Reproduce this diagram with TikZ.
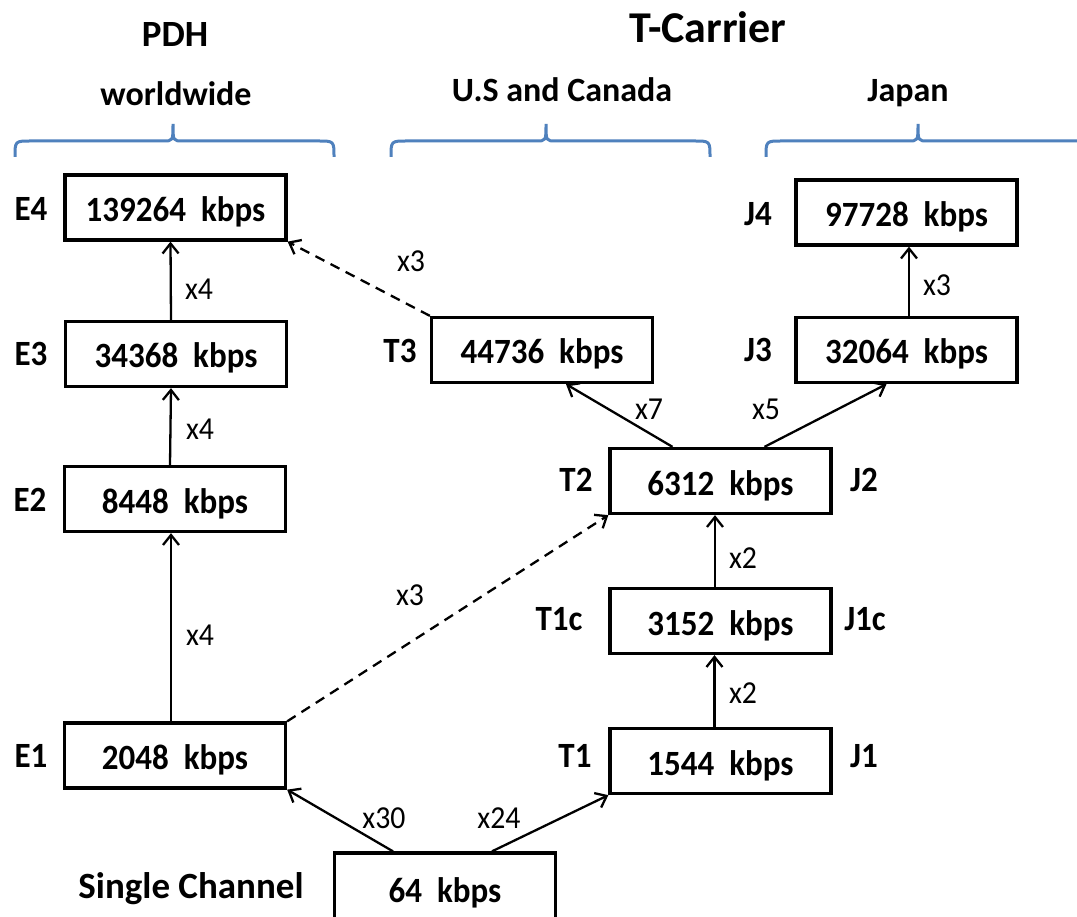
\documentclass[tikz,border=0pt]{standalone}
\usepackage{fontspec}
\setmainfont{Carlito}
\newfontfamily\tallfont[FakeStretch=0.93]{Carlito}
\usetikzlibrary{arrows.meta}
\definecolor{bracecol}{RGB}{79,129,189}
\tikzset{
  box/.style={draw, line width=3.3pt, minimum width=221pt, minimum height=65pt,
    inner sep=0pt, font=\tallfont\fontsize{35.5}{42}\selectfont\bfseries, text height=28pt, text depth=0pt},
  lab/.style={font=\tallfont\fontsize{35.5}{42}\selectfont\bfseries, anchor=base, inner sep=0pt},
  sublab/.style={font=\fontsize{34}{40}\selectfont\bfseries, anchor=base, inner sep=0pt},
  mul/.style={font=\tallfont\fontsize{32}{38}\selectfont, anchor=base, inner sep=0pt},
  conn/.style={line width=2.3pt, -{Straight Barb[length=10pt,width=16pt]}},
  dconn/.style={conn, dash pattern=on 10pt off 7pt},
  bracepath/.style={draw=bracecol, line width=3pt},
}
\newcommand{\twosp}{\ \ }
\begin{document}
\begin{tikzpicture}[x=1pt,y=-1pt]
\useasboundingbox (0,0) rectangle (1077,917);
\clip (0,0) rectangle (1077,917);
\fill[white] (0,0) rectangle (1077,917);

% titles
\node[anchor=base, inner sep=0pt, font=\fontsize{37}{44}\selectfont\bfseries] (pdh) at (175,47) {PDH};
\node[anchor=base, inner sep=0pt, font=\fontsize{44}{52}\selectfont\bfseries] (tcar) at (708,43) {T-Carrier};
\node[sublab] (ww) at (176,106) {worldwide};
\node[sublab] (usc) at (562,102) {U.S and Canada};
\node[sublab] (jap) at (908,102) {Japan};

% braces
\draw[bracepath] (15,157) .. controls (15,141) and (15,141) .. (31,141) -- (163,141)
  .. controls (173,141) and (173,141) .. (173,124) .. controls (173,141) and (173,141) .. (183,141)
  -- (318,141) .. controls (334,141) and (334,141) .. (334,157);
\draw[bracepath] (391,157) .. controls (391,141) and (391,141) .. (407,141) -- (536,141)
  .. controls (546,141) and (546,141) .. (546,124) .. controls (546,141) and (546,141) .. (556,141)
  -- (694,141) .. controls (710,141) and (710,141) .. (710,157);
\draw[bracepath] (766,157) .. controls (766,141) and (766,141) .. (782,141) -- (908,141)
  .. controls (918,141) and (918,141) .. (918,124) .. controls (918,141) and (918,141) .. (928,141)
  -- (1090,141);

% boxes
\node[box] (E4) at (175.5,207.5) {139264\twosp kbps};
\node[box] (E3) at (176,354) {34368\twosp kbps};
\node[box] (E2) at (175,499) {8448\twosp kbps};
\node[box] (E1) at (175,755.5) {2048\twosp kbps};
\node[box] (T3) at (542,350) {44736\twosp kbps};
\node[box] (J3) at (906.5,350) {32064\twosp kbps};
\node[box] (J4) at (906.5,212.5) {97728\twosp kbps};
\node[box] (T2) at (720.5,481) {6312\twosp kbps};
\node[box] (T1c) at (720.5,621) {3152\twosp kbps};
\node[box] (T1) at (720.5,761) {1544\twosp kbps};
\node[box, minimum height=70pt] (CH) at (445,888) {64\twosp kbps};

% side labels
\node[lab] (lE4) at (31,221) {E4};
\node[lab] (lE3) at (31,366) {E3};
\node[lab] (lE2) at (30,511) {E2};
\node[lab] (lE1) at (31,767) {E1};
\node[lab] (lT3) at (400,363) {T3};
\node[lab] (lJ3) at (758,362) {J3};
\node[lab] (lJ4) at (758,226) {J4};
\node[lab] (lT2) at (576,491) {T2};
\node[lab] (lJ2) at (864,491) {J2};
\node[lab] (lT1c) at (559,630) {T1c};
\node[lab] (lJ1c) at (865,630) {J1c};
\node[lab] (lT1) at (575,767) {T1};
\node[lab] (lJ1) at (864,767) {J1};
\node[anchor=base, inner sep=0pt, font=\fontsize{37}{44}\selectfont\bfseries] (lCH) at (191,898) {Single Channel};

% connectors
\draw[conn] ([xshift=-5pt]E3.north) -- ([xshift=-5pt]E4.south);
\draw[conn] ([xshift=-5pt]E2.north) -- ([xshift=-5pt]E3.south);
\draw[conn] ([xshift=-4pt]E1.north) -- ([xshift=-4pt]E2.south);
\draw[dconn] (T3.north west) -- (E4.south east);
\draw[dconn] (E1.north east) -- (T2.south west);
\draw[conn] ([xshift=-48pt]T2.north) -- ([xshift=24pt]T3.south);
\draw[conn] ([xshift=44pt]T2.north) -- ([xshift=-20pt]J3.south);
\draw[conn] ([xshift=2.5pt]J3.north) -- ([xshift=2.5pt]J4.south);
\draw[conn] ([xshift=-5.5pt]T1c.north) -- ([xshift=-5.5pt]T2.south);
\draw[conn] ([xshift=-6pt]T1.north) -- ([xshift=-6pt]T1c.south);
\draw[conn] ([xshift=-52pt]CH.north) -- (E1.south east);
\draw[conn] ([xshift=47pt]CH.north) -- (T1.south west);

% multipliers
\node[mul] (m1) at (199,300) {x4};
\node[mul] (m2) at (200,439) {x4};
\node[mul] (m3) at (200,645) {x4};
\node[mul] (m4) at (411,272) {x3};
\node[mul] (m5) at (410,605) {x3};
\node[mul] (m6) at (649,420) {x7};
\node[mul] (m7) at (766,420) {x5};
\node[mul] (m8) at (937,296) {x3};
\node[mul] (m9) at (743,568) {x2};
\node[mul] (m10) at (743,703) {x2};
\node[mul] (m11) at (384,828) {x30};
\node[mul] (m12) at (499,828) {x24};
\end{tikzpicture}
\end{document}
